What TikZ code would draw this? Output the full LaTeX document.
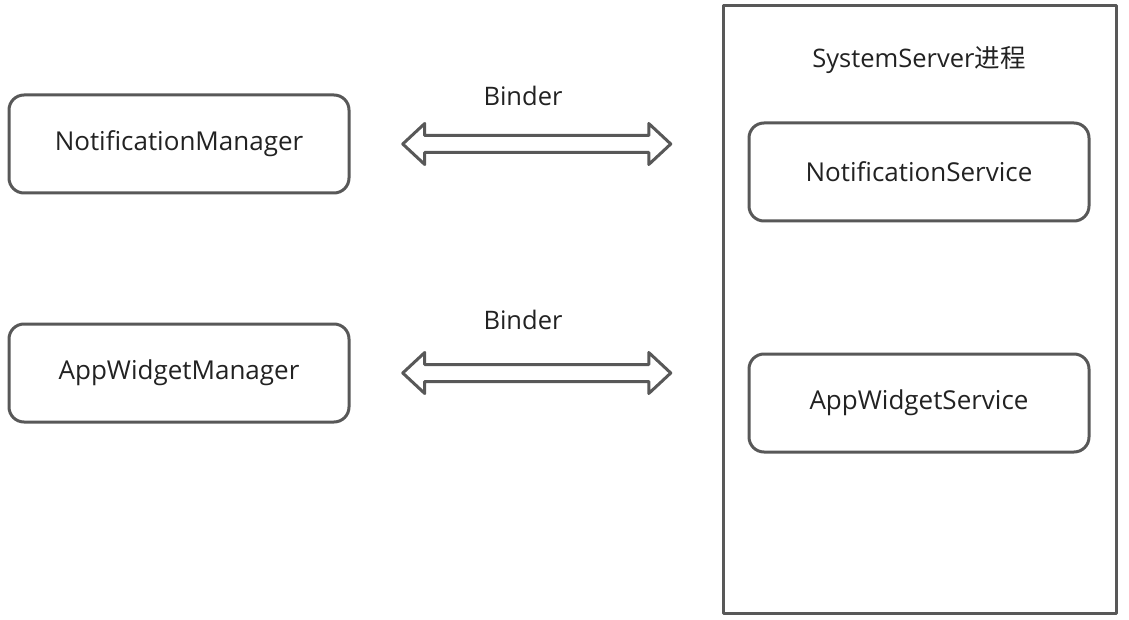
\documentclass[tikz,border=0pt]{standalone}
\usepackage{fontspec}
\setmainfont{Open Sans}
\newfontfamily\cjk{Noto Sans CJK SC}
\usepackage{tikz}
\usetikzlibrary{shapes.arrows,calc}
\definecolor{boxgray}{RGB}{88,88,88}
\definecolor{inktext}{RGB}{34,34,34}

\begin{document}
\begin{tikzpicture}[x=1pt,y=-1pt,line join=round,
  comp/.style={draw=boxgray,line width=3pt,rounded corners=15pt,minimum width=340pt,minimum height=98pt,font=\fontsize{26}{30}\selectfont,text=inktext},
  binder/.style={double arrow,draw=boxgray,line width=3pt,fill=white,inner sep=0pt,inner ysep=7pt,double arrow head extend=12pt,double arrow tip angle=86,minimum height=268pt},
  lbl/.style={font=\fontsize{25.5}{30}\selectfont,text=inktext}]
  \useasboundingbox (0,0) rectangle (1129,620);
  % the SystemServer process
  \draw[boxgray,line width=3pt] (723,6) rectangle (1116,613);
  \coordinate (srvwest) at (723,6);
  \node[lbl] (srvname) at (919,60) {SystemServer{\cjk 进程}};
  \node[comp] (ns) at (919,172) {NotificationService};
  \node[comp] (aws) at (919,403) {AppWidgetService};
  % the client side managers
  \node[comp] (nm) at (179,144) {NotificationManager};
  \node[comp] (awm) at (179,373) {AppWidgetManager};
  % binder links between the two sides
  \node[binder] (b1) at ($(nm.east)!0.5!(srvwest |- nm.east)$) {};
  \node[binder] (b2) at ($(awm.east)!0.5!(srvwest |- awm.east)$) {};
  \node[lbl] (b1lbl) at (523,96) {Binder};
  \node[lbl] (b2lbl) at (523,320) {Binder};
\end{tikzpicture}
\end{document}
